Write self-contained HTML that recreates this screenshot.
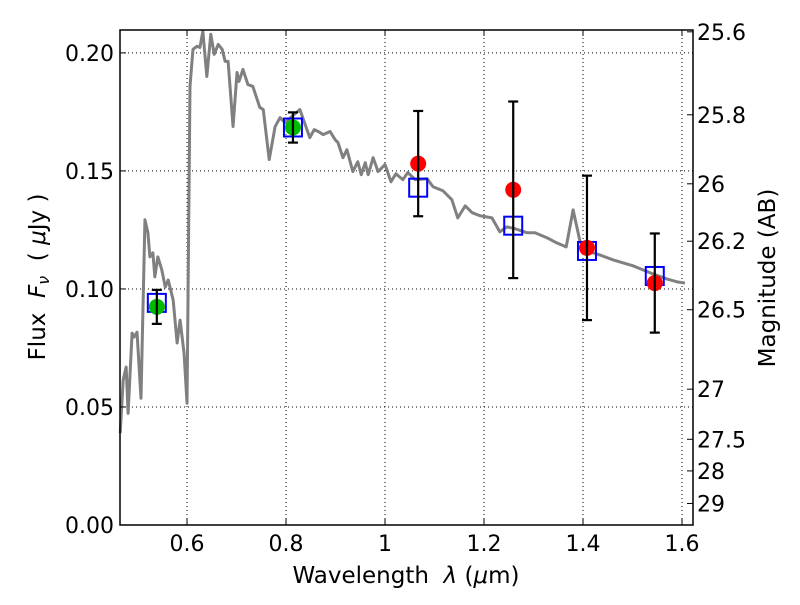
<!DOCTYPE html>
<html><head><meta charset="utf-8"><style>
body{margin:0;background:#fff}
svg text{font-family:"DejaVu Sans","Liberation Sans",sans-serif;fill:#000}
</style></head><body>
<svg width="800" height="600" xmlns="http://www.w3.org/2000/svg">
<g id="grid"></g>
<g id="spec"></g>
<g id="pts"></g>
<rect x="120" y="30" width="573" height="495" fill="none" stroke="#000" stroke-width="1.5"/>
<g id="ticks"></g>
<text x="406" y="583" font-size="23" text-anchor="middle" xml:space="preserve">Wavelength  <tspan font-style="italic">λ</tspan> (<tspan font-style="italic">μ</tspan>m)</text>
<text transform="translate(45,277) rotate(-90)" font-size="23" text-anchor="middle" xml:space="preserve">Flux  <tspan font-style="italic">F</tspan><tspan font-style="italic" font-size="16" dy="4">ν</tspan><tspan dy="-4">  ( </tspan><tspan font-style="italic">μ</tspan>Jy )</text>
<text transform="translate(775,278) rotate(-90)" font-size="23" text-anchor="middle">Magnitude (AB)</text>
</svg>
<script>
const specWave=[.465,.471,.477,.481,.489,.493,.499,.507,.515,.521,.525,.531,.535,.541,.549,.556,.562,.572,.580,.586,.594,.600,.606,.612,.620,.626,.632,.640,.648,.655,.663,.671,.677,.683,.693,.701,.705,.713,.723,.733,.747,.754,.766,.778,.788,.798,.828,.848,.857,.865,.875,.889,.899,.905,.915,.923,.935,.945,.952,.960,.966,.976,.986,1.000,1.012,1.022,1.036,1.046,1.061,1.085,1.097,1.117,1.135,1.147,1.162,1.176,1.192,1.216,1.232,1.246,1.263,1.287,1.303,1.327,1.347,1.366,1.380,1.394,1.408,1.434,1.461,1.501,1.541,1.570,1.590,1.606];
const specFlux=[.0389,.0614,.0669,.0473,.0813,.0796,.0817,.0537,.1293,.1238,.1136,.1153,.1051,.1136,.1081,.1008,.1038,.0953,.0771,.0868,.0728,.0516,.1858,.2015,.2028,.2023,.2091,.1900,.2079,.1994,.2036,.2015,.1964,.1964,.1688,.1917,.1879,.1930,.1866,.1858,.1769,.1760,.1548,.1688,.1726,.1705,.1760,.1641,.1675,.1667,.1654,.1667,.1633,.1620,.1556,.1590,.1497,.1539,.1484,.1535,.1484,.1556,.1497,.1527,.1454,.1488,.1463,.1493,.1463,.1467,.1433,.1416,.1378,.1301,.1352,.1323,.1310,.1301,.1242,.1263,.1255,.1238,.1238,.1217,.1195,.1178,.1335,.1200,.1161,.1144,.1123,.1098,.1064,.1042,.1030,.1025];
const greenWave=[0.539,0.814];
const greenFlux=[0.0924,0.1684];
const greenErr=[0.0072,0.0064];
const redWave=[1.067,1.259,1.408,1.545];
const redFlux=[0.1531,0.1420,0.1174,0.1025];
const redErr=[0.0223,0.0374,0.0306,0.0210];
const boxWave=[0.539,0.814,1.067,1.259,1.408,1.545];
const boxFlux=[0.0941,0.1684,0.1429,0.1268,0.1161,0.1055];
const xTicks=[0.6,0.8,1.0,1.2,1.4,1.6];
const xTickLabels=["0.6","0.8","1","1.2","1.4","1.6"];
const yTicks=[0,0.05,0.10,0.15,0.20];
const yTickLabels=["0.00","0.05","0.10","0.15","0.20"];
const magTicks=[25.6,25.8,26,26.2,26.5,27,27.5,28,29];
const magTickLabels=["25.6","25.8","26","26.2","26.5","27","27.5","28","29"];

const NS="http://www.w3.org/2000/svg";
const X0=0.4646,X1=1.6222,L=120,R=693,Y0=0,Y1=0.2097,B=525,T=30;
const xs=v=>L+(v-X0)/(X1-X0)*(R-L);
const ys=v=>B-(v-Y0)/(Y1-Y0)*(B-T);
const magToFlux=m=>Math.pow(10,(23.9-m)/2.5);
function mk(tag,attrs,parent){const e=document.createElementNS(NS,tag);for(const k in attrs)e.setAttribute(k,attrs[k]);parent.appendChild(e);return e;}
const grid=document.getElementById('grid'),ticks=document.getElementById('ticks'),spec=document.getElementById('spec'),pts=document.getElementById('pts');
xTicks.forEach((v,i)=>{const x=xs(v);
 const g=mk('line',{x1:x,x2:x,y1:T,y2:B,stroke:'#000','stroke-width':1,'stroke-dasharray':'1,3'},grid);
 
 
 mk('line',{x1:x,x2:x,y1:B,y2:B-6,stroke:'#000'},ticks);
 mk('line',{x1:x,x2:x,y1:T,y2:T+6,stroke:'#000'},ticks);
 const t=mk('text',{x:x,y:551,'font-size':22,'text-anchor':'middle'},ticks);t.textContent=xTickLabels[i];
 
 
});
yTicks.forEach((v,i)=>{const y=ys(v);
 const g=mk('line',{x1:L,x2:R,y1:y,y2:y,stroke:'#000','stroke-width':1,'stroke-dasharray':'1,3'},grid);
 
 
 mk('line',{x1:L,x2:L+6,y1:y,y2:y,stroke:'#000'},ticks);
 const t=mk('text',{x:114,y:y+8,'font-size':22,'text-anchor':'end'},ticks);t.textContent=yTickLabels[i];
 
 
});
magTicks.forEach((m,i)=>{const y=ys(magToFlux(m));
 mk('line',{x1:R,x2:R-6,y1:y,y2:y,stroke:'#000'},ticks);
 const t=mk('text',{x:697,y:y+8,'font-size':22,'text-anchor':'start'},ticks);t.textContent=magTickLabels[i];
 
 
});
const p=mk('polyline',{points:specWave.map((w,i)=>xs(w)+','+ys(specFlux[i])).join(' '),fill:'none',stroke:'#808080','stroke-width':3,'stroke-linejoin':'round'},spec);


boxWave.forEach((w,i)=>{const r=mk('rect',{x:xs(w)-9,y:ys(boxFlux[i])-9,width:18,height:18,fill:'none',stroke:'#0000ff','stroke-width':2},pts);
 
 });
function pt(w,f,e,col){const x=xs(w);
 const c=mk('circle',{cx:x,cy:ys(f),r:8,fill:col},pts);
 
 
 const g=mk('g',{stroke:'#000','stroke-width':2.2},pts);
 
 
 mk('line',{x1:x,x2:x,y1:ys(f+e),y2:ys(f-e)},g);
 mk('line',{x1:x-5,x2:x+5,y1:ys(f+e),y2:ys(f+e)},g);
 mk('line',{x1:x-5,x2:x+5,y1:ys(f-e),y2:ys(f-e)},g);}
greenWave.forEach((w,i)=>pt(w,greenFlux[i],greenErr[i],'#00bb00'));
redWave.forEach((w,i)=>pt(w,redFlux[i],redErr[i],'#ff0000'));
</script>
</body></html>
